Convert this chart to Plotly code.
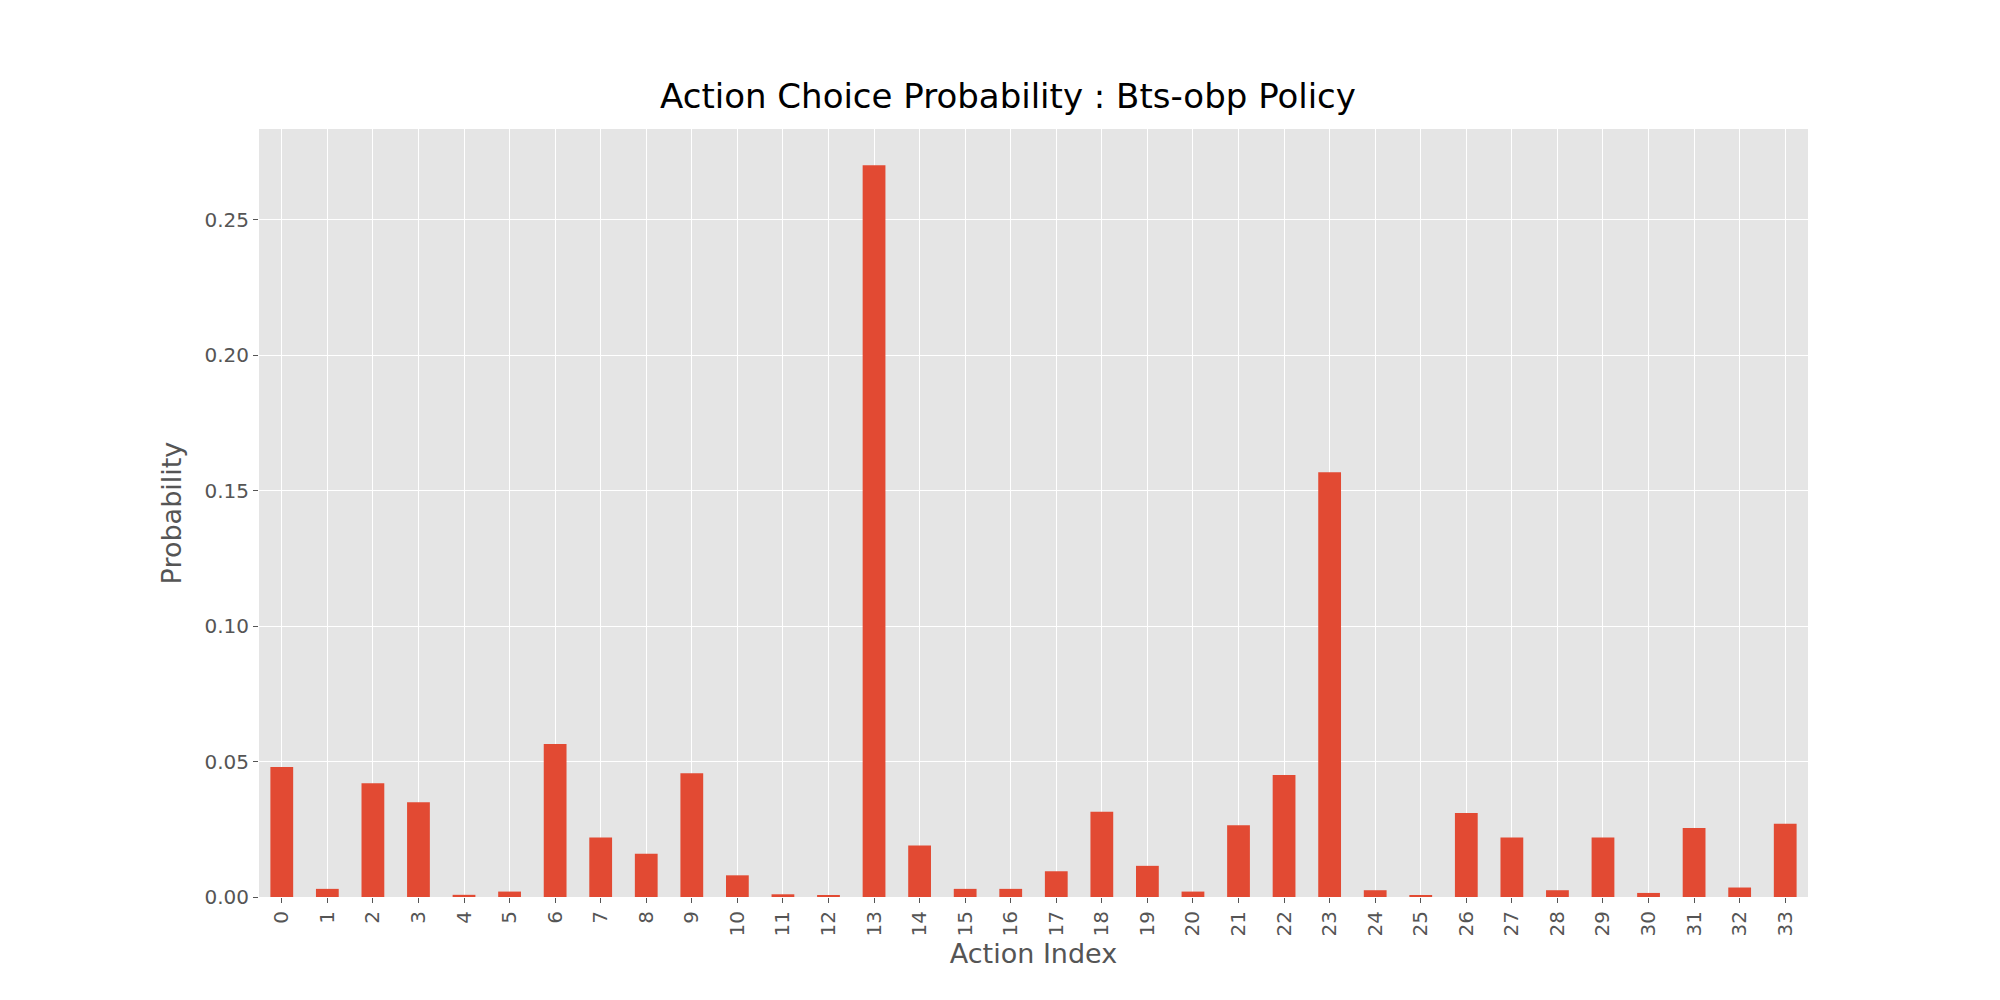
import plotly.graph_objs as go

actions = [str(i) for i in range(34)]
probs = [0.048, 0.003, 0.042, 0.035, 0.0008, 0.002, 0.0565, 0.022, 0.016, 0.0457,
         0.008, 0.001, 0.0007, 0.270, 0.019, 0.003, 0.003, 0.0095, 0.0315, 0.0115,
         0.002, 0.0265, 0.045, 0.1567, 0.0025, 0.0004, 0.031, 0.022, 0.0025, 0.022,
         0.0015, 0.0255, 0.0035, 0.027]

trace = go.Bar(x=actions, y=probs, marker=dict(color='#E24A33', line=dict(width=0)), width=0.5)

layout = go.Layout(
    width=2000, height=1000,
    paper_bgcolor='white', plot_bgcolor='#E5E5E5',
    font=dict(family='DejaVu Sans', color='#555555'),
    title=dict(text='Action Choice Probability : Bts-obp Policy', x=0.5, xanchor='center',
               y=0.9, yanchor='bottom', font=dict(size=34, color='black')),
    margin=dict(l=251, r=200, t=121, b=111),
    xaxis=dict(title=dict(text='Action Index', font=dict(size=27), standoff=8),
               tickangle=-90, tickfont=dict(size=20), showgrid=True, gridcolor='white',
               ticks='outside', ticklen=5, tickcolor='#555555', range=[-0.5, 33.5]),
    yaxis=dict(title=dict(text='Probability', font=dict(size=27)), tickfont=dict(size=20),
               range=[0, 0.2834], tickvals=[0, 0.05, 0.10, 0.15, 0.20, 0.25],
               tickformat='.2f', gridcolor='white', ticks='outside', ticklen=5,
               tickcolor='#555555', zeroline=False),
    showlegend=False,
    bargap=0.5,
)

fig = go.Figure(data=[trace], layout=layout)
fig.write_html('out.html')
